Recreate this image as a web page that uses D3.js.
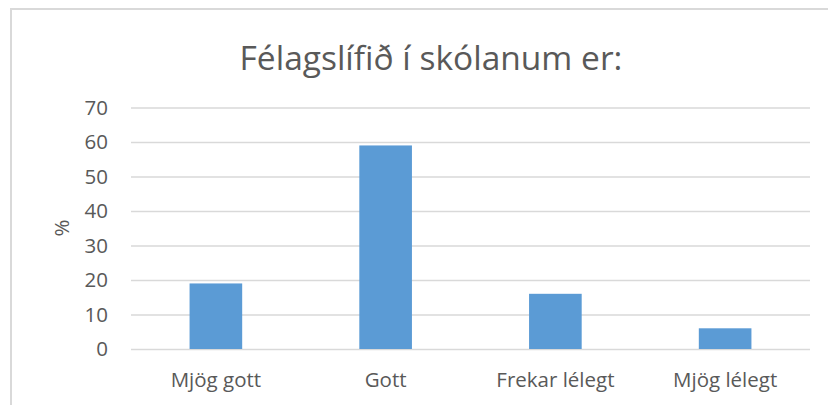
<!DOCTYPE html>
<html>
<head>
<meta charset="utf-8">
<script src="https://cdn.jsdelivr.net/npm/d3@7"></script>
<style>
  body { margin: 0; background: #fff; }
  text { font-family: "Open Sans", "Liberation Sans", sans-serif; }
</style>
</head>
<body>
<div id="chart-area"></div>
<script>
// --- Data ---
var categories = ["Mjög gott", "Gott", "Frekar lélegt", "Mjög lélegt"];
var values = [19, 59, 16, 6];
var yTicks = [0, 10, 20, 30, 40, 50, 60, 70];
var title = "Félagslífið í skólanum er:";
var yLabel = "%";

// --- Setup the canvas ---
var canvasWidth = 828;
var canvasHeight = 405;
var canvas = d3.select("#chart-area").append("svg")
  .attr("width", canvasWidth)
  .attr("height", canvasHeight);

canvas.append("rect")
  .attr("width", canvasWidth).attr("height", canvasHeight)
  .attr("fill", "#fff");

// chart frame (runs off the right / bottom edges)
canvas.append("rect")
  .attr("x", 11).attr("y", 9)
  .attr("width", 840).attr("height", 420)
  .attr("fill", "none")
  .attr("stroke", "#d9d9d9")
  .attr("stroke-width", 2);

var plot = {left: 131, right: 810, top: 107.5, bottom: 349};
var labelSize = 20.5;

// --- Scales ---
var xScale = d3.scaleBand()
  .domain(categories)
  .range([plot.left, plot.right])
  .paddingInner(0.69)
  .paddingOuter(0.345);

var yScale = d3.scaleLinear()
  .domain([0, 70])
  .range([plot.bottom, plot.top]);

// --- Gridlines ---
var yAxis = d3.axisLeft(yScale)
  .tickValues(yTicks)
  .tickSize(-(plot.right - plot.left))
  .tickPadding(23);

var yAxisGroup = canvas.append("g")
  .attr("transform", "translate(" + plot.left + ",0)")
  .call(yAxis);
yAxisGroup.select(".domain").remove();
yAxisGroup.selectAll("line")
  .attr("stroke", "#d9d9d9")
  .attr("stroke-width", 1.5);
yAxisGroup.selectAll("text")
  .attr("fill", "#595959")
  .style("font-size", labelSize + "px");

// --- Bars ---
canvas.selectAll("rect.bar")
  .data(values)
  .enter()
  .append("rect")
    .attr("class", "bar")
    .attr("x", (d, i) => xScale(categories[i]))
    .attr("y", (d) => yScale(d))
    .attr("width", xScale.bandwidth())
    .attr("height", (d) => yScale(0) - yScale(d))
    .attr("fill", "#5b9bd5");

// --- X axis labels ---
var xAxis = d3.axisBottom(xScale).tickSize(0);
var xAxisGroup = canvas.append("g")
  .attr("transform", "translate(0," + plot.bottom + ")")
  .call(xAxis);
xAxisGroup.select(".domain").remove();
xAxisGroup.selectAll("text")
  .attr("y", 38)
  .attr("dy", null)
  .attr("fill", "#595959")
  .style("font-size", labelSize + "px");

// --- Labels ---
canvas.append("text")
  .text(title)
  .attr("x", 431)
  .attr("y", 70)
  .attr("text-anchor", "middle")
  .style("font-size", "33.5px")
  .attr("fill", "#595959");

canvas.append("text")
  .text(yLabel)
  .attr("transform", "translate(69,228) rotate(-90)")
  .attr("text-anchor", "middle")
  .style("font-size", labelSize + "px")
  .attr("fill", "#595959");
</script>
</body>
</html>
